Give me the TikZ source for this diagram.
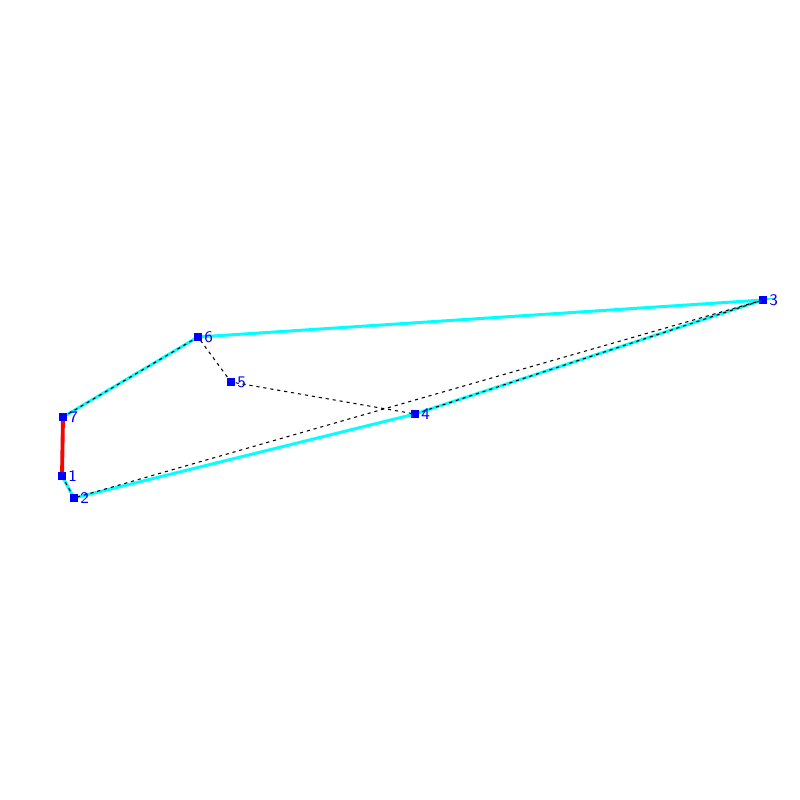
\documentclass[tikz,border=0pt]{standalone}
\usetikzlibrary{positioning}

\definecolor{hullcyan}{RGB}{0,255,255}
\definecolor{vtxblue}{RGB}{0,0,255}
\definecolor{pathred}{RGB}{255,0,0}

\tikzset{
  vtx/.style = {fill=vtxblue, inner sep=0pt, minimum size=2pt, draw=none},
  vlab/.style = {text=vtxblue, font=\fontsize{4.6}{5.5}\selectfont\sffamily, inner sep=0.4pt},
  hull/.style = {hullcyan, line width=0.85pt},
  chosen/.style = {pathred, line width=1.1pt},
  tour/.style = {black, line width=0.3pt, dash pattern=on 0.9pt off 1.1pt}
}

\begin{document}
\begin{tikzpicture}[x=0.01cm, y=-0.01cm]
\useasboundingbox (0,0) rectangle (800,800);
\fill[white] (0,0) rectangle (800,800);
% points
\coordinate (c1) at (62,476);
\coordinate (c2) at (74,498);
\coordinate (c3) at (763,300);
\coordinate (c4) at (415,414);
\coordinate (c5) at (231,382);
\coordinate (c6) at (198,337);
\coordinate (c7) at (63,417);
% hull
\draw[hull] (c1) -- (c2) -- (c4) -- (c3) -- (c6) -- (c7) -- cycle;
% tour
\draw[tour] (c1) -- (c2) -- (c3) -- (c4) -- (c5) -- (c6) -- (c7) -- (c1);
\draw[chosen] (c7) -- (c1);
% vertices
\foreach \i in {1,...,7}
  \node[vtx, label={[vlab, anchor=west]east:\i}] (p\i) at (c\i) {};
\end{tikzpicture}
\end{document}
